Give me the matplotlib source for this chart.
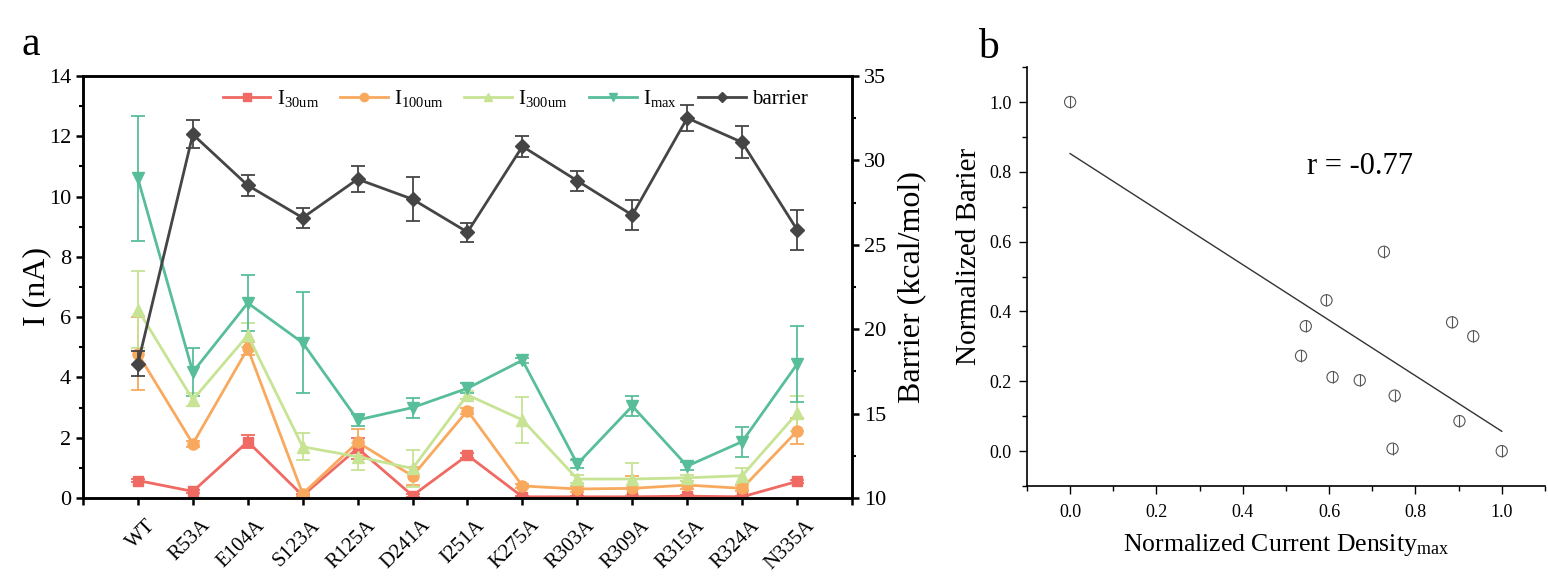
import numpy as np
import matplotlib
matplotlib.use("Agg")
import matplotlib.pyplot as plt
import matplotlib.transforms as mtransforms
from matplotlib.ticker import MultipleLocator, FormatStrFormatter

plt.rcParams['font.family'] = ['Liberation Serif', 'DejaVu Serif']
plt.rcParams['mathtext.fontset'] = 'custom'
plt.rcParams['mathtext.rm'] = 'Liberation Serif'
plt.rcParams['mathtext.it'] = 'Liberation Serif:italic'

# ---------------- data (panel a) ----------------
mutants = ["WT", "R53A", "E104A", "S123A", "R125A", "D241A", "I251A",
           "K275A", "R303A", "R309A", "R315A", "R324A", "N335A"]

i30 = [0.58, 0.22, 1.87, 0.08, 1.65, 0.08, 1.42, 0.04, 0.04, 0.04, 0.06, 0.04, 0.55]
i30_err = [0.05, 0.05, 0.22, 0.05, 0.35, 0.05, 0.08, 0.02, 0.02, 0.02, 0.03, 0.02, 0.06]

i100 = [4.79, 1.80, 4.96, 0.14, 1.85, 0.73, 2.90, 0.40, 0.30, 0.32, 0.43, 0.32, 2.22]
i100_err = [1.20, 0.10, 0.20, 0.08, 0.45, 0.30, 0.10, 0.06, 0.10, 0.42, 0.12, 0.10, 0.44]

i300 = [6.25, 3.26, 5.40, 1.70, 1.37, 0.98, 3.42, 2.59, 0.63, 0.63, 0.67, 0.74, 2.81]
i300_err = [1.28, 0.22, 0.40, 0.45, 0.44, 0.60, 0.12, 0.75, 0.12, 0.54, 0.10, 0.26, 0.58]

imax = [10.6, 4.18, 6.47, 5.15, 2.59, 3.00, 3.64, 4.57, 1.13, 3.05, 1.06, 1.87, 4.44]
imax_err = [2.08, 0.78, 0.92, 1.67, 0.20, 0.33, 0.16, 0.08, 0.14, 0.33, 0.12, 0.50, 1.27]

barrier = [17.96, 31.54, 28.52, 26.60, 28.89, 27.70, 25.75, 30.83, 28.79, 26.76, 32.51, 31.07, 25.89]
barrier_err = [0.74, 0.83, 0.62, 0.60, 0.77, 1.29, 0.57, 0.63, 0.61, 0.89, 0.79, 0.95, 1.20]

series_labels = [r'I$_{\mathrm{30um}}$', r'I$_{\mathrm{100um}}$', r'I$_{\mathrm{300um}}$',
                 r'I$_{\mathrm{max}}$', 'barrier']

# ---------------- data (panel b) ----------------
norm_current = [0.0, 0.727, 0.594, 0.546, 0.535, 0.608, 0.671, 0.752, 0.747, 0.885, 0.934, 0.902, 1.0]
norm_barrier = [1.0, 0.571, 0.432, 0.358, 0.273, 0.212, 0.203, 0.159, 0.007, 0.369, 0.329, 0.086, 0.0]
r_text = "r = -0.77"

# ---------------- styles ----------------
colors = ['#EF6A62', '#F8A95E', '#C7E394', '#58BE9A', '#454545']
markers = ['s', 'o', '^', 'v', 'D']
msizes = [7, 8, 8, 8, 7]

fig = plt.figure(figsize=(15.48, 5.77), dpi=100)

ax = fig.add_axes([0.0536, 0.1369, 0.4968, 0.7314])
ax2 = ax.twinx()

x = np.arange(len(mutants))
handles = []
for vals, errs, c, m, ms in zip([i30, i100, i300, imax], [i30_err, i100_err, i300_err, imax_err],
                                colors[:4], markers[:4], msizes[:4]):
    cont = ax.errorbar(x, vals, yerr=errs, color=c, marker=m, markersize=ms, lw=2.0,
                       elinewidth=1.3, capsize=5, capthick=1.3)
    handles.append(cont[0])
cont = ax2.errorbar(x, barrier, yerr=barrier_err, color=colors[4], marker=markers[4],
                    markersize=msizes[4], lw=2.0, elinewidth=1.3, capsize=5, capthick=1.3)
handles.append(cont[0])

ax.set_xlim(-1, 13)
ax.set_ylim(0, 14)
ax2.set_ylim(10, 35)
ax.set_xticks(x)
ax.set_xticks(np.arange(-1, 14), minor=True)
ax.set_xticklabels([])
# rotated category labels, anchored at each tick with a small offset
lab_tr = ax.get_xaxis_transform() + mtransforms.ScaledTranslation(8 / 100, -18 / 100, fig.dpi_scale_trans)
for xi, name in zip(x, mutants):
    ax.text(xi, 0, name, transform=lab_tr, rotation=45, ha='right', va='top',
            rotation_mode='anchor', fontsize=15, clip_on=False)

ax.yaxis.set_major_locator(MultipleLocator(2))
ax.yaxis.set_minor_locator(MultipleLocator(1))
ax2.yaxis.set_major_locator(MultipleLocator(5))
ax2.yaxis.set_minor_locator(MultipleLocator(2.5))

for a in (ax, ax2):
    for s in a.spines.values():
        s.set_linewidth(1.8)
    a.tick_params(which='major', direction='out', length=5, width=1.8, labelsize=16)
    a.tick_params(which='minor', direction='out', length=3, width=1.5)
ax.tick_params(axis='x', which='minor', length=5, width=1.8)

ax.set_ylabel('I (nA)', fontsize=23, labelpad=-2)
ax2.set_ylabel('Barrier (kcal/mol)', fontsize=23, labelpad=8)

leg = ax2.legend(handles, series_labels, loc='upper center', bbox_to_anchor=(0.562, 1.015),
                 ncol=5, frameon=False, fontsize=15, handlelength=2.3, handletextpad=0.3,
                 columnspacing=1.0, markerscale=0.75)

fig.text(0.014, 0.905, 'a', fontsize=30)

# ---------------- panel b ----------------
bx = fig.add_axes([0.6634, 0.1577, 0.3346, 0.726])
bx.scatter(norm_current, norm_barrier, s=65, facecolors='none', edgecolors='#555555', linewidths=0.8, zorder=3)
bx.scatter(norm_current, norm_barrier, s=65, marker='|', color='#555555', linewidths=0.8, zorder=3)
coef = np.polyfit(norm_current, norm_barrier, 1)
xf = np.array([min(norm_current), max(norm_current)])
bx.plot(xf, np.polyval(coef, xf), color='#333333', lw=1.0)
bx.text(0.548, 0.815, r_text, fontsize=22, va='center', ha='left')

bx.set_xlim(-0.1, 1.1)
bx.set_ylim(-0.1, 1.1)
bx.xaxis.set_major_locator(MultipleLocator(0.2))
bx.xaxis.set_minor_locator(MultipleLocator(0.1))
bx.yaxis.set_major_locator(MultipleLocator(0.2))
bx.yaxis.set_minor_locator(MultipleLocator(0.1))
bx.xaxis.set_major_formatter(FormatStrFormatter('%.1f'))
bx.yaxis.set_major_formatter(FormatStrFormatter('%.1f'))
bx.spines['top'].set_visible(False)
bx.spines['right'].set_visible(False)
for s in ('left', 'bottom'):
    bx.spines[s].set_linewidth(1.2)
bx.tick_params(which='major', direction='out', length=6, width=1.0, labelsize=13, pad=5)
bx.tick_params(axis='x', which='major', pad=7)
bx.tick_params(which='minor', direction='out', length=3.5, width=1.0)
bx.set_xlabel(r'Normalized Current Density$_{\mathrm{max}}$', fontsize=18.5, labelpad=8)
bx.set_ylabel('Normalized Barier', fontsize=21)
bx.yaxis.set_label_coords(-0.087, 0.547)

fig.text(0.632, 0.9, 'b', fontsize=30)

fig.savefig('out.png', dpi=100)
